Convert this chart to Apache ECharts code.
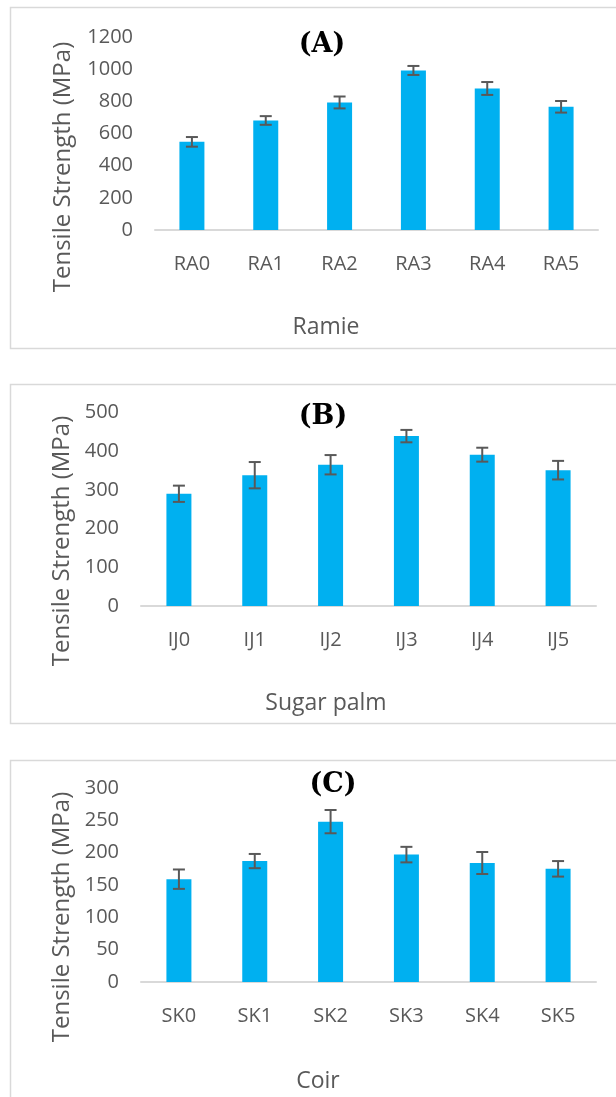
<!DOCTYPE html>
<html>
<head>
<meta charset="utf-8">
<script src="https://cdn.jsdelivr.net/npm/echarts@6/dist/echarts.min.js"></script>
<style>
  html, body { margin: 0; padding: 0; background: #fff; }
  #chart { width: 616px; height: 1097px; }
</style>
</head>
<body>
<div id="chart"></div>
<script>
// Tensile strength of fibres after treatment (mean ± standard deviation)
const ramieCats = ['RA0', 'RA1', 'RA2', 'RA3', 'RA4', 'RA5'];
const ramieMean = [548, 681, 793, 992, 880, 766];
const ramieSd = [30, 27, 37, 28, 40, 36];

const palmCats = ['IJ0', 'IJ1', 'IJ2', 'IJ3', 'IJ4', 'IJ5'];
const palmMean = [290, 338, 365, 439, 391, 351];
const palmSd = [21, 34, 25, 16, 18, 24];

const coirCats = ['SK0', 'SK1', 'SK2', 'SK3', 'SK4', 'SK5'];
const coirMean = [159, 187, 248, 197, 184, 175];
const coirSd = [15, 11, 18, 12, 17, 12];

const yMaxes = [1200, 500, 300];
const ySteps = [200, 100, 50];
const panelLetters = ['(A)', '(B)', '(C)'];
const fibreNames = ['Ramie', 'Sugar palm', 'Coir'];
const yTitle = 'Tensile Strength (MPa)';

const panels = [
  { cats: ramieCats, mean: ramieMean, sd: ramieSd },
  { cats: palmCats, mean: palmMean, sd: palmSd },
  { cats: coirCats, mean: coirMean, sd: coirSd }
];

// layout of each panel (pixels)
const layout = [
  { box: [10.5, 7.5, 620, 341], grid: { left: 155, right: 18, top: 37, height: 193 },
    letter: [322, 45], name: [326, 327], ytitle: [63, 167] },
  { box: [10.5, 384.5, 620, 339], grid: { left: 141, right: 20, top: 412.5, height: 193.5 },
    letter: [323, 417], name: [326, 703], ytitle: [62, 541] },
  { box: [10.5, 760.5, 620, 360], grid: { left: 141, right: 20, top: 788, height: 194 },
    letter: [333, 785], name: [318, 1081], ytitle: [62, 917] }
];

const textGrey = '#595959';
const barBlue = '#00b0f0';
const lineGrey = '#d9d9d9';

const grids = [], xAxes = [], yAxes = [], series = [], graphics = [];

panels.forEach((p, i) => {
  const L = layout[i];
  grids.push(Object.assign({}, L.grid));
  xAxes.push({
    type: 'category', gridIndex: i, data: p.cats,
    axisLine: { lineStyle: { color: lineGrey, width: 2 } },
    axisTick: { show: false },
    axisLabel: { color: textGrey, fontFamily: 'Open Sans', fontSize: 20, margin: 24 }
  });
  yAxes.push({
    type: 'value', gridIndex: i, min: 0, max: yMaxes[i], interval: ySteps[i],
    axisLine: { show: false }, axisTick: { show: false },
    splitLine: { show: false },
    axisLabel: { color: textGrey, fontFamily: 'Open Sans', fontSize: 20, margin: 22,
                 formatter: v => String(v) }
  });
  series.push({
    type: 'bar', xAxisIndex: i, yAxisIndex: i, data: p.mean,
    barWidth: 25, itemStyle: { color: barBlue }, silent: true
  });
  series.push({
    type: 'custom', xAxisIndex: i, yAxisIndex: i, silent: true, z: 5,
    data: p.mean.map((m, k) => [k, m - p.sd[k], m + p.sd[k]]),
    encode: { x: 0, y: [1, 2] },
    renderItem: (params, api) => {
      const lo = api.coord([api.value(0), api.value(1)]);
      const hi = api.coord([api.value(0), api.value(2)]);
      const cap = 6;
      const st = { stroke: textGrey, lineWidth: 2 };
      return {
        type: 'group',
        children: [
          { type: 'line', shape: { x1: lo[0], y1: lo[1], x2: hi[0], y2: hi[1] }, style: st },
          { type: 'line', shape: { x1: hi[0] - cap, y1: hi[1], x2: hi[0] + cap, y2: hi[1] }, style: st },
          { type: 'line', shape: { x1: lo[0] - cap, y1: lo[1], x2: lo[0] + cap, y2: lo[1] }, style: st }
        ]
      };
    }
  });

  graphics.push({
    type: 'rect', shape: { x: L.box[0], y: L.box[1], width: L.box[2], height: L.box[3] },
    style: { fill: 'none', stroke: lineGrey, lineWidth: 1.5 }, z: -1
  });
  graphics.push({
    type: 'text', x: L.letter[0], y: L.letter[1],
    style: { text: panelLetters[i], fill: '#000', font: 'bold 27px "DejaVu Serif"',
             textAlign: 'center', textVerticalAlign: 'middle' }
  });
  graphics.push({
    type: 'text', x: L.name[0], y: L.name[1],
    style: { text: fibreNames[i], fill: textGrey, font: '23px "Open Sans"',
             textAlign: 'center', textVerticalAlign: 'middle' }
  });
  graphics.push({
    type: 'text', x: L.ytitle[0], y: L.ytitle[1], rotation: Math.PI / 2,
    style: { text: yTitle, fill: textGrey, font: '24px "Open Sans"',
             textAlign: 'center', textVerticalAlign: 'middle' }
  });
});

const chart = echarts.init(document.getElementById('chart'), null, { renderer: 'canvas' });
chart.setOption({
  animation: false,
  backgroundColor: '#fff',
  grid: grids,
  xAxis: xAxes,
  yAxis: yAxes,
  series: series,
  graphic: graphics
});
</script>
</body>
</html>
